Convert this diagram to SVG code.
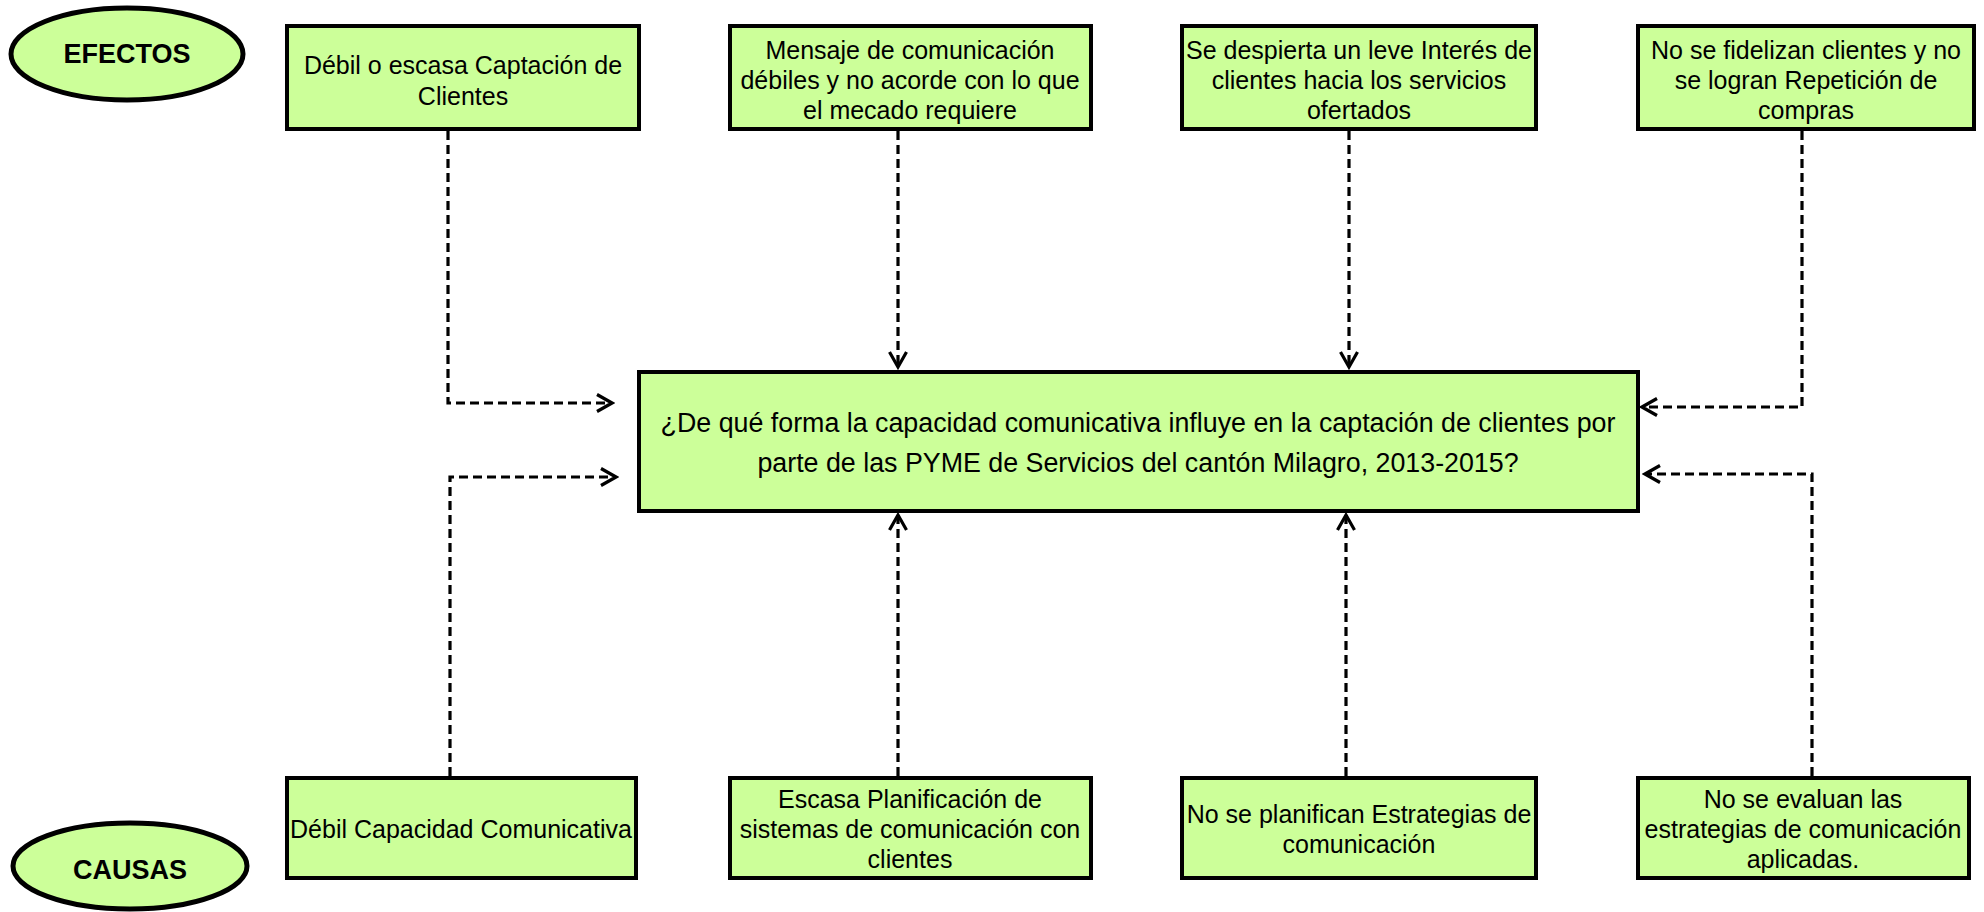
<svg xmlns="http://www.w3.org/2000/svg" width="1984" height="912" viewBox="0 0 1984 912">
<defs>
<marker id="arr" viewBox="-18 -11 21 22" refX="0" refY="0" markerWidth="21" markerHeight="22" markerUnits="userSpaceOnUse" orient="auto">
<path d="M-15,-8.5 L0,0 L-15,8.5" fill="none" stroke="#000" stroke-width="3.2"/>
</marker>
<style>
.box{fill:#CCFF99;stroke:#000;stroke-width:4}
.ell{fill:#CCFF99;stroke:#000;stroke-width:5}
.t{font-family:"Liberation Sans",Arial,sans-serif;font-size:25px;fill:#000;text-anchor:middle}
.tc{font-family:"Liberation Sans",Arial,sans-serif;font-size:26.8px;fill:#000;text-anchor:middle}
.lb{font-family:"Liberation Sans",Arial,sans-serif;font-size:27px;font-weight:bold;fill:#000;text-anchor:middle}
.c{fill:none;stroke:#000;stroke-width:3.2;stroke-dasharray:9 5;marker-end:url(#arr)}
</style>
</defs>
<rect width="1984" height="912" fill="#fff"/>
<g id="efectos">
<ellipse class="ell" cx="127" cy="54" rx="116" ry="46"/>
<text class="lb" x="127" y="63">EFECTOS</text>
</g>
<g id="causas">
<ellipse class="ell" cx="130" cy="866" rx="117" ry="43"/>
<text class="lb" x="130" y="879">CAUSAS</text>
</g>
<g id="e1">
<rect class="box" x="287" y="26" width="352" height="103"/>
<text class="t" x="463" y="74">Débil o escasa Captación de</text>
<text class="t" x="463" y="105">Clientes</text>
</g>
<g id="e2">
<rect class="box" x="730" y="26" width="361" height="103"/>
<text class="t" x="910" y="59">Mensaje de comunicación</text>
<text class="t" x="910" y="89">débiles y no acorde con lo que</text>
<text class="t" x="910" y="119">el mecado requiere</text>
</g>
<g id="e3">
<rect class="box" x="1182" y="26" width="354" height="103"/>
<text class="t" x="1359" y="59">Se despierta un leve Interés de</text>
<text class="t" x="1359" y="89">clientes hacia los servicios</text>
<text class="t" x="1359" y="119">ofertados</text>
</g>
<g id="e4">
<rect class="box" x="1638" y="26" width="336" height="103"/>
<text class="t" x="1806" y="59">No se fidelizan clientes y no</text>
<text class="t" x="1806" y="89">se logran Repetición de</text>
<text class="t" x="1806" y="119">compras</text>
</g>
<g id="problema">
<rect class="box" x="639" y="372" width="999" height="139"/>
<text class="tc" x="1138" y="432">¿De qué forma la capacidad comunicativa influye en la captación de clientes por</text>
<text class="tc" x="1138" y="472">parte de las PYME de Servicios del cantón Milagro, 2013-2015?</text>
</g>
<g id="c1">
<rect class="box" x="287" y="778" width="349" height="100"/>
<text class="t" x="461" y="838">Débil Capacidad Comunicativa</text>
</g>
<g id="c2">
<rect class="box" x="730" y="778" width="361" height="100"/>
<text class="t" x="910" y="808">Escasa Planificación de</text>
<text class="t" x="910" y="838">sistemas de comunicación con</text>
<text class="t" x="910" y="868">clientes</text>
</g>
<g id="c3">
<rect class="box" x="1182" y="778" width="354" height="100"/>
<text class="t" x="1359" y="823">No se planifican Estrategias de</text>
<text class="t" x="1359" y="853">comunicación</text>
</g>
<g id="c4">
<rect class="box" x="1638" y="778" width="331" height="100"/>
<text class="t" x="1803" y="808">No se evaluan las</text>
<text class="t" x="1803" y="838">estrategias de comunicación</text>
<text class="t" x="1803" y="868">aplicadas.</text>
</g>
<g id="connectors">
<path class="c" d="M448,131 V403 H612"/>
<path class="c" d="M898,131 V367"/>
<path class="c" d="M1349,131 V367"/>
<path class="c" d="M1802,131 V407 H1642"/>
<path class="c" d="M450,776 V477 H616"/>
<path class="c" d="M898,776 V515"/>
<path class="c" d="M1346,776 V515"/>
<path class="c" d="M1812,776 V474 H1645"/>
</g>
</svg>
